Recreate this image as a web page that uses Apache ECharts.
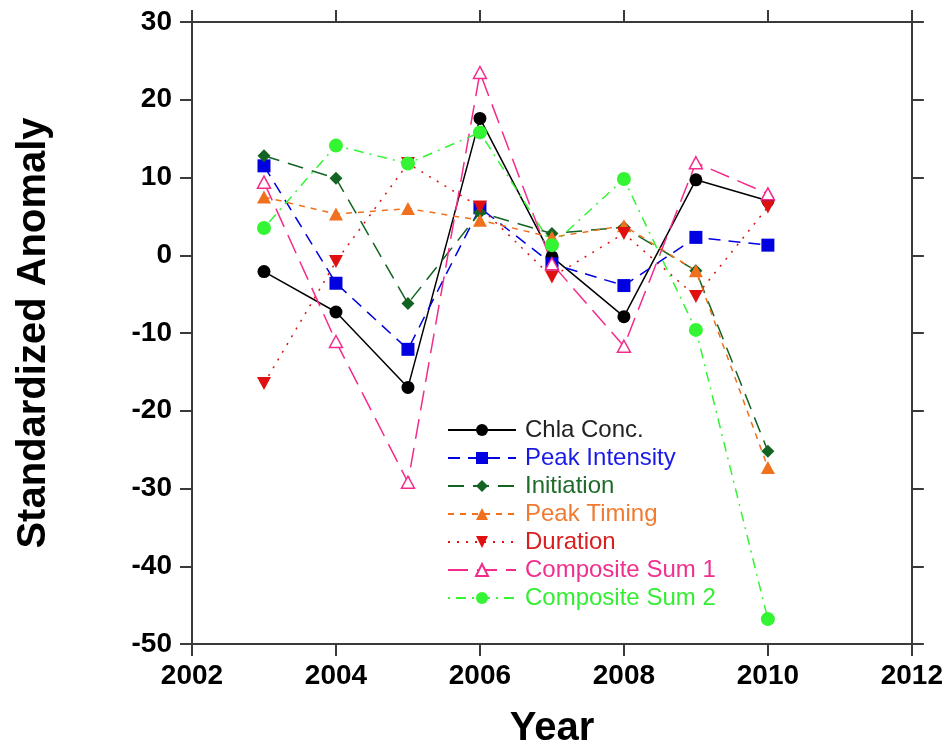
<!DOCTYPE html>
<html>
<head>
<meta charset="utf-8">
<script src="https://cdn.jsdelivr.net/npm/echarts@6/dist/echarts.min.js"></script>
<style>html,body{margin:0;padding:0;background:#fff;}#c{width:946px;height:754px;}</style>
</head>
<body>
<div id="c"></div>
<script>
const years = [2003, 2004, 2005, 2006, 2007, 2008, 2009, 2010];
const chla = [-2.1, -7.3, -17.0, 17.6, -0.2, -7.9, 9.7, 7.0];
const peakIntensity = [11.5, -3.6, -12.1, 6.1, -1.1, -3.9, 2.3, 1.3];
const initiation = [12.8, 9.9, -6.2, 5.5, 2.8, 3.6, -2.0, -25.2];
const peakTiming = [7.5, 5.3, 6.0, 4.5, 2.3, 3.8, -2.0, -27.3];
const duration = [-16.5, -0.8, 11.8, 6.2, -2.8, 2.8, -5.3, 6.2];
const composite1 = [9.4, -11.1, -29.2, 23.5, -1.1, -11.7, 11.9, 7.9];
const composite2 = [3.5, 14.1, 11.8, 15.8, 1.3, 9.8, -9.6, -46.8];
const xTicks = [2002, 2004, 2006, 2008, 2010, 2012];
const yTicks = [-50, -40, -30, -20, -10, 0, 10, 20, 30];

const pair = arr => years.map((y, i) => [y, arr[i]]);
const font = '"Liberation Sans", Arial, sans-serif';

const seriesDefs = [
  {name: 'Chla Conc.', data: chla, color: '#000000', text: '#222222', dash: 'solid', symbol: 'circle', size: 13},
  {name: 'Peak Intensity', data: peakIntensity, color: '#0000E0', text: '#1a1ae6', dash: [12, 8], symbol: 'rect', size: 13},
  {name: 'Initiation', data: initiation, color: '#136322', text: '#1f6b2a', dash: [16, 9], symbol: 'diamond', size: 13},
  {name: 'Peak Timing', data: peakTiming, color: '#F0701E', text: '#F07a30', dash: [6, 6], symbol: 'triangle', size: [14, 13]},
  {name: 'Duration', data: duration, color: '#E01010', text: '#D82020', dash: [2, 7], symbol: 'path://M0,0 L10,0 L5,9 Z', size: [14, 13]},
  {name: 'Composite Sum 1', data: composite1, color: '#F52B8C', text: '#F0308E', dash: [20, 9], symbol: 'triangle', size: [13, 12], hollow: true},
  {name: 'Composite Sum 2', data: composite2, color: '#33F533', text: '#33EE33', dash: [2, 6, 10, 6], symbol: 'circle', size: 14}
];

const series = seriesDefs.map(d => ({
  name: d.name,
  type: 'line',
  data: pair(d.data),
  symbol: d.symbol,
  symbolSize: d.size,
  showAllSymbol: true,
  lineStyle: {color: d.color, width: 1.5, type: d.dash},
  itemStyle: d.hollow ? {color: '#ffffff', borderColor: d.color, borderWidth: 1.5}
                      : {color: d.color, borderWidth: 0},
  emphasis: {disabled: true},
  animation: false
}));

const axisLine = {show: true, onZero: false, lineStyle: {color: '#3a3a3a', width: 2}};
const axisTick = {show: true, inside: false, length: 12, lineStyle: {color: '#3a3a3a', width: 2}};

const option = {
  backgroundColor: '#ffffff',
  animation: false,
  grid: {left: 192, right: 34, top: 22, bottom: 109},
  legend: {
    orient: 'vertical',
    left: 442,
    top: 411,
    itemWidth: 68,
    itemHeight: 15,
    itemGap: 0,
    textStyle: {fontFamily: font, fontSize: 24, lineHeight: 28, padding: [0, 0, 0, 4]},
    data: seriesDefs.map(d => ({name: d.name, textStyle: {color: d.text}}))
  },
  xAxis: [
    {
      type: 'value', min: 2002, max: 2012, interval: 2, position: 'bottom',
      axisLine, axisTick, splitLine: {show: false},
      axisLabel: {color: '#000', fontFamily: font, fontWeight: 'bold', fontSize: 28, margin: 18,
        formatter: v => xTicks.includes(v) ? String(v) : ''},
      name: 'Year', nameLocation: 'middle', nameGap: 65,
      nameTextStyle: {color: '#000', fontFamily: font, fontWeight: 'bold', fontSize: 40}
    },
    {
      type: 'value', min: 2002, max: 2012, interval: 2, position: 'top',
      axisLine, axisTick, splitLine: {show: false}, axisLabel: {show: false}
    }
  ],
  yAxis: [
    {
      type: 'value', min: -50, max: 30, interval: 10, position: 'left',
      axisLine, axisTick, splitLine: {show: false},
      axisLabel: {color: '#000', fontFamily: font, fontWeight: 'bold', fontSize: 28, margin: 20,
        formatter: v => yTicks.includes(v) ? String(v) : ''},
      name: 'Standardized Anomaly', nameLocation: 'middle', nameGap: 138, nameRotate: 90,
      nameTextStyle: {color: '#000', fontFamily: font, fontWeight: 'bold', fontSize: 40}
    },
    {
      type: 'value', min: -50, max: 30, interval: 10, position: 'right',
      axisLine, axisTick, splitLine: {show: false}, axisLabel: {show: false}
    }
  ],
  series
};

const chart = echarts.init(document.getElementById('c'), null, {renderer: 'canvas'});
chart.setOption(option);
</script>
</body>
</html>
